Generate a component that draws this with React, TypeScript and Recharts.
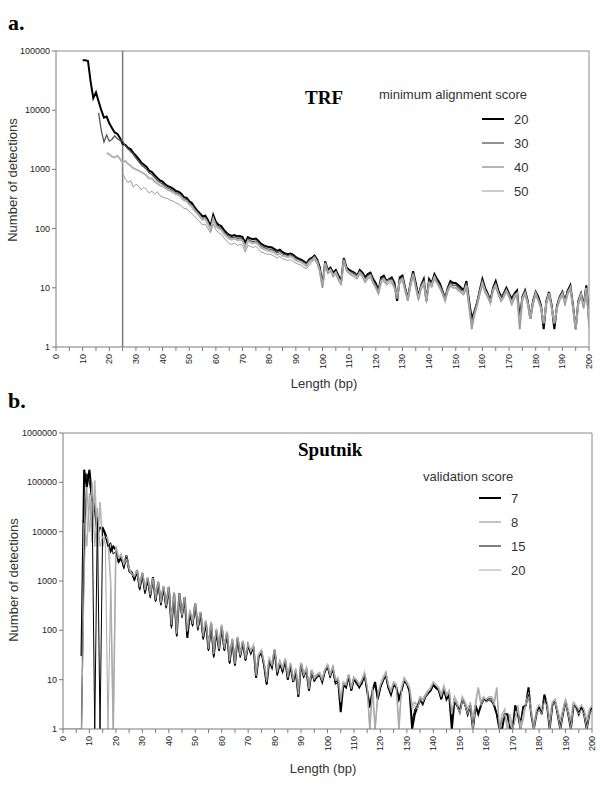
import { LineChart, Line, XAxis, YAxis, ReferenceLine } from 'recharts';

// ---- TRF (panel a): number of detections per length, one array per min. alignment score
const trfLen0 = { s20: 10, s30: 16, s40: 19, s50: 25 };

const trf20 = [
  70000, 70000, 68000, 30000, 16000, 20000, 14000, 10000, 7500, 7800,
  6000, 5000, 4200, 4000, 3400, 2700, 2600, 2300, 2200, 1900,
  1700, 1500, 1300, 1200, 1100, 950, 900, 800, 720, 650,
  620, 560, 520, 500, 470, 430, 420, 390, 340, 330,
  290, 270, 230, 200, 180, 160, 165, 140, 110, 170,
  130, 115, 110, 95, 85, 78, 75, 78, 74, 75,
  72, 58, 72, 68, 66, 68, 62, 55, 52, 50,
  49, 48, 45, 42, 44, 40, 38, 37, 38, 36,
  33, 31, 30, 28, 26, 30, 32, 35, 30, 22,
  11, 28, 20, 22, 18, 20, 16, 13, 32, 22,
  20, 19, 18, 16, 20, 18, 15, 17, 18, 14,
  12, 9, 15, 16, 13, 14, 15, 12, 6, 15,
  16, 10, 6.5, 12, 19, 12, 7, 11, 14, 6,
  14, 12, 17, 14, 12, 9, 6.5, 10, 13, 12,
  12, 11, 10, 9, 13, 6, 3, 4, 5.5, 9,
  14, 10, 8, 6, 10, 13, 9, 7, 8, 10,
  8, 6.5, 8, 9, 3, 7, 9, 6, 3, 6,
  8.5, 7, 5, 2, 6, 8.5, 5, 2, 5, 7,
  8.5, 6, 9, 11, 5, 2, 6, 8, 5, 11, 3,
];

const trf30 = [
  9000, 4500, 2900, 3800,
  3000, 3200, 3700, 3300, 3100, 3000, 2500, 2200, 2000, 1800,
  1550, 1350, 1200, 1100, 1000, 870, 820, 730, 650, 600,
  570, 510, 480, 460, 430, 400, 390, 360, 320, 310,
  270, 250, 215, 190, 170, 150, 150, 130, 100, 155,
  120, 105, 100, 88, 78, 72, 70, 72, 68, 70,
  66, 52, 66, 62, 60, 62, 57, 50, 48, 46,
  45, 44, 42, 39, 41, 37, 36, 35, 36, 34,
  31, 30, 28, 27, 25, 29, 31, 34, 29, 21,
  11, 27, 19, 21, 17, 19, 15, 12, 31, 21,
  19, 18, 17, 16, 19, 17, 14, 16, 17, 13,
  11, 9, 14, 15, 13, 14, 14, 11, 7, 14,
  15, 10, 7, 12, 18, 11, 7, 11, 13, 6.5,
  13, 12, 16, 13, 11, 9, 7, 10, 12, 11,
  11, 10, 9, 9, 12, 5.5, 2.5, 4, 6, 9,
  13, 9, 8, 6, 10, 12, 8, 7, 8, 9,
  8, 6, 8, 8, 2.5, 7, 9, 6, 3.5, 6,
  8, 6.5, 5, 2.5, 6, 8, 5, 2.5, 5, 7,
  8, 6, 9, 10, 5, 2, 6, 8, 5, 10, 3,
];

const trf40 = [
  1900,
  1800, 1650, 1600, 1700, 1500, 1300, 1400, 1250, 1150, 1050,
  1000, 950, 900, 850, 780, 700, 700, 620, 580, 540,
  520, 480, 450, 430, 410, 380, 370, 340, 300, 290,
  255, 235, 200, 180, 160, 140, 145, 120, 95, 145,
  110, 100, 95, 82, 74, 68, 65, 68, 64, 65,
  62, 48, 62, 58, 56, 58, 53, 47, 45, 43,
  42, 41, 39, 36, 38, 35, 34, 33, 34, 32,
  29, 28, 27, 25, 23, 27, 29, 32, 27, 19,
  10, 26, 18, 20, 16, 18, 14, 12, 29, 20,
  18, 17, 16, 15, 18, 16, 13, 15, 16, 12,
  10, 8, 13, 14, 12, 13, 13, 10, 7, 13,
  14, 9, 6, 11, 17, 10, 6.5, 10, 12, 6,
  12, 11, 15, 12, 10, 8, 6, 9, 11, 10,
  10, 9, 8.5, 8, 11, 5, 2, 3.5, 5, 8,
  12, 9, 7, 5.5, 9, 11, 8, 6, 7, 9,
  7, 5.5, 7, 8, 2, 6.5, 8, 5.5, 3, 5.5,
  8, 6, 4.5, 2.5, 5.5, 8, 4.5, 2.5, 4.5, 6.5,
  8, 5.5, 8, 10, 4.5, 2, 5.5, 7.5, 4.5, 10, 2.5,
];

const trf50 = [
  850, 700, 600, 650, 500,
  560, 520, 450, 500, 450, 400, 430, 380, 420, 360,
  340, 330, 320, 300, 290, 270, 260, 240, 220, 215,
  195, 180, 160, 145, 130, 115, 120, 100, 85, 120,
  95, 85, 80, 70, 62, 56, 54, 57, 52, 54,
  52, 40, 52, 50, 48, 50, 45, 40, 39, 37,
  37, 36, 34, 32, 34, 31, 30, 29, 30, 28,
  26, 25, 24, 22, 21, 24, 27, 30, 25, 18,
  10, 25, 17, 19, 15, 17, 13, 11, 28, 19,
  17, 16, 15, 14, 17, 15, 12, 14, 15, 12,
  10, 8, 12, 13, 11, 12, 12, 10, 6.5, 12,
  13, 9, 6, 10, 16, 10, 6, 9.5, 11, 5.5,
  12, 10, 14, 12, 10, 8, 6, 8.5, 11, 10,
  10, 9, 8, 7.5, 10, 4.5, 2, 3.5, 5, 7.5,
  11, 8, 7, 5.5, 9, 10, 7.5, 6, 7, 8.5,
  7, 5, 6.5, 7.5, 2, 6, 7.5, 5, 3, 5,
  7.5, 6, 4.5, 2.5, 5, 7.5, 4.5, 2.5, 4.5, 6,
  7.5, 5, 7.5, 9.5, 4.5, 2, 5, 7, 4.5, 9.5, 2,
];

// ---- Sputnik (panel b): one array per validation score
const spLen0 = { s7: 7, s8: 6, s15: 7, s20: 0 };

const sp7 = [
  30,
  180000, 80000,
  180000, 50000, 30000, 9000, 12000, 12000, 9000, 6000, 4000, 5000,
  4300, 2500, 3000, 2000, 3300, 1700, 1500, 1100, 1650, 700,
  1450, 600, 1150, 500, 1200, 400, 950, 350, 760, 300,
  760, 120, 570, 80, 560, 200, 470, 70, 230, 130,
  350, 110, 230, 70, 150, 40, 140, 30, 100, 40,
  120, 40, 90, 22, 64, 20, 70, 30, 59, 25,
  50, 35, 47, 11, 30, 37, 20, 8, 25, 18,
  40, 13, 22, 15, 25, 10, 20, 9, 15, 4.5,
  21, 12, 16, 6, 15, 10, 12, 13, 9, 15,
  19, 12, 17, 9, 10, 2.2, 8, 7, 12, 6,
  10.6, 9, 7, 9, 13, 6, 2.7, 6, 9, 4,
  7, 10, 13, 7, 5, 8, 7, 4, 6, 10,
  8.5, 6, 1, 2, 2.8, 4, 3.2, 4.5, 5.4, 6,
  8, 7, 6.3, 4, 6.8, 4, 5, 1, 3.7, 3,
  2.2, 4, 3.2, 2, 3, 1, 3, 2, 3, 4,
  3.7, 4, 4, 3, 2, 1, 1, 2, 2, 1,
  1, 3, 2, 1, 2.8, 3, 7, 2, 1, 2,
  2.8, 2, 5, 3, 1, 3, 3.7, 2, 1, 2,
  3.7, 2, 1, 3, 2.8, 2, 2.8, 2, 1, 2, 2.8,
];

const sp8 = [
  1,
  1, 15000, 5000,
  60000, 6000, 110000, 5000, 40000, 5000, 8000, 7000, 1000, 1,
  5000, 3000, 3500, 2200, 3000, 1800, 1400, 1300, 1600, 800,
  1500, 700, 1200, 550, 1150, 450, 1000, 380, 800, 330,
  750, 140, 600, 90, 550, 210, 480, 100, 260, 140,
  360, 120, 240, 80, 160, 45, 150, 35, 110, 45,
  130, 45, 95, 25, 70, 22, 75, 32, 62, 28,
  52, 38, 50, 13, 33, 40, 22, 10, 27, 20,
  42, 15, 24, 17, 27, 12, 22, 10, 17, 5,
  22, 13, 17, 7, 16, 11, 13, 14, 10, 16,
  20, 13, 18, 10, 11, 4, 9, 8, 13, 7,
  11, 10, 8, 10, 14, 7, 1, 7, 1, 5,
  8, 11, 14, 8, 6, 9, 8, 1, 7, 11,
  9, 7, 3, 3.5, 3, 4.5, 4, 5, 6, 7,
  9, 8, 7, 5, 7.5, 5, 6, 2, 4.5, 3.5,
  2.5, 4.5, 3.5, 2.5, 3.5, 1.5, 3.5, 7, 3.5, 4.5,
  4, 4.5, 4.5, 3.5, 7, 1, 2, 2.5, 1, 2,
  1, 2, 3, 1, 2, 3.5, 5, 2.5, 1, 2.5,
  3, 2.5, 4, 3.5, 1.5, 3.5, 4, 2.5, 1.5, 2.5,
  4, 2.5, 1.5, 3.5, 3, 2.5, 3, 2.5, 1.5, 2.5, 3,
];

const sp15 = [
  1,
  3000, 150000,
  100000, 40000, 1, 20000, 1, 12000, 8000, 5000, 6000, 3500,
  4000, 2300, 2800, 1800, 3000, 1500, 1400, 1000, 1500, 650,
  1350, 550, 1100, 450, 1100, 380, 900, 320, 700, 280,
  700, 110, 540, 75, 520, 180, 450, 80, 220, 120,
  330, 100, 220, 65, 140, 38, 130, 28, 95, 38,
  110, 38, 85, 21, 60, 19, 66, 28, 55, 24,
  48, 33, 44, 11, 28, 35, 19, 8, 24, 17,
  38, 12, 21, 14, 24, 10, 19, 9, 14, 4.5,
  20, 11, 15, 6, 14, 9, 11, 12, 9, 14,
  18, 11, 16, 8, 9, 3, 7.5, 7, 11, 6,
  10, 8, 7, 8, 12, 5.5, 3, 6, 8, 4,
  7, 9, 12, 6.5, 5, 7.5, 7, 4, 6, 9,
  8, 5.5, 1.5, 2.5, 3, 4, 3.5, 4.5, 5, 6,
  7.5, 6.5, 6, 4, 6, 4, 5, 1.5, 3.5, 3,
  2.5, 4, 3, 2, 3, 1, 3, 2, 3, 4,
  3.5, 4, 3.5, 3, 2, 1, 1.5, 2, 2, 1,
  1, 3, 2, 1.5, 2.8, 3, 5, 2, 1, 2,
  2.8, 2, 4.5, 3, 1, 3, 3.5, 2, 1, 2,
  3.5, 2, 1, 3, 2.5, 2, 2.8, 2, 1, 2, 2.5,
];

const sp20 = [
  1, 1, 1, 1, 1, 1, 1, 1, 1000, 80000,
  10000, 100000, 5000, 30000, 5000, 8000, 6000, 1, 700, 1,
  5000, 2800, 3200, 2100, 2800, 1700, 1350, 1200, 1550, 750,
  1400, 650, 1150, 520, 1100, 420, 980, 360, 780, 310,
  720, 130, 580, 85, 540, 200, 460, 95, 250, 135,
  340, 115, 235, 75, 155, 42, 145, 33, 105, 42,
  125, 42, 92, 24, 66, 21, 72, 31, 60, 26,
  50, 36, 48, 12, 31, 38, 21, 9, 26, 19,
  40, 14, 23, 16, 26, 11, 21, 9.5, 16, 5,
  21, 12, 16, 6.5, 15, 10, 12, 13, 9.5, 15,
  19, 12, 17, 9.5, 10, 3.5, 8.5, 7.5, 12, 6.5,
  10.5, 9.5, 7.5, 9.5, 13, 6.5, 1, 6.5, 1, 4.5,
  7.5, 10, 13, 7.5, 5.5, 8.5, 7.5, 1, 6.5, 10,
  8.5, 6.5, 2.5, 3, 2.5, 4, 3.5, 4.5, 5.5, 6.5,
  8.5, 7.5, 6.5, 4.5, 7, 4.5, 5.5, 2, 4, 3,
  2, 4, 3, 2, 3, 1, 3, 6.5, 3, 4,
  3.5, 4, 4, 3, 6.5, 1, 1.5, 2, 1, 1.5,
  1, 1.5, 2.5, 1, 1.5, 3, 4.5, 2, 1, 2,
  2.5, 2, 3.5, 3, 1, 3, 3.5, 2, 1, 2,
  3.5, 2, 1, 3, 2.5, 2, 2.5, 2, 1, 2, 2.5,
];

const xTicks = [0, 5, 10, 15, 20, 25, 30, 35, 40, 45, 50, 55, 60, 65, 70, 75, 80, 85, 90, 95, 100,
  105, 110, 115, 120, 125, 130, 135, 140, 145, 150, 155, 160, 165, 170, 175, 180, 185, 190, 195, 200];
const trfYTicks = [1, 10, 100, 1000, 10000, 100000];
const spYTicks = [1, 10, 100, 1000, 10000, 100000, 1000000];

type SeriesDef = { key: string; name: string; start: number; values: number[]; stroke: string; width: number };

const trfSeries: SeriesDef[] = [
  { key: 's20', name: '20', start: trfLen0.s20, values: trf20, stroke: '#000000', width: 2 },
  { key: 's30', name: '30', start: trfLen0.s30, values: trf30, stroke: '#555555', width: 1.3 },
  { key: 's40', name: '40', start: trfLen0.s40, values: trf40, stroke: '#b4b4b4', width: 2 },
  { key: 's50', name: '50', start: trfLen0.s50, values: trf50, stroke: '#9a9a9a', width: 1 },
];

const spSeries: SeriesDef[] = [
  { key: 's7', name: '7', start: spLen0.s7, values: sp7, stroke: '#000000', width: 2 },
  { key: 's8', name: '8', start: spLen0.s8, values: sp8, stroke: '#b4b4b4', width: 1.6 },
  { key: 's15', name: '15', start: spLen0.s15, values: sp15, stroke: '#000000', width: 1 },
  { key: 's20', name: '20', start: spLen0.s20, values: sp20, stroke: '#a8a8a8', width: 1 },
];

function buildRows(series: SeriesDef[]) {
  const rows: Record<string, number | null>[] = [];
  for (let len = 0; len <= 200; len++) {
    const row: Record<string, number | null> = { len };
    series.forEach((s) => {
      const i = len - s.start;
      row[s.key] = i >= 0 && i < s.values.length ? s.values[i] : null;
    });
    rows.push(row);
  }
  return rows;
}

const trfRows = buildRows(trfSeries);
const spRows = buildRows(spSeries);

const SANS = '"Liberation Sans", Arial, sans-serif';
const SERIF = '"Liberation Serif", "Times New Roman", serif';

function LenTick({ x, y, payload }: any) {
  if (payload.value % 10 !== 0) return null;
  return (
    <text x={x} y={y} dy={3} transform={`rotate(-90 ${x} ${y})`} textAnchor="end"
      fontSize={9} fontFamily={SANS} fill="#222">
      {payload.value}
    </text>
  );
}

function CountTick({ x, y, payload }: any) {
  return (
    <text x={x} y={y} dy={3} textAnchor="end" fontSize={9} fontFamily={SANS} fill="#222">
      {payload.value}
    </text>
  );
}

function LegendBlock({ title, series, titleX, titleY, lineX, itemY }: {
  title: string; series: SeriesDef[]; titleX: number; titleY: number; lineX: number; itemY: number;
}) {
  return (
    <g fontFamily={SANS} fontSize={13} fill="#333">
      <text x={titleX} y={titleY}>{title}</text>
      {series.map((s, i) => (
        <g key={s.key}>
          <line x1={lineX} x2={lineX + 22} y1={itemY + i * 24} y2={itemY + i * 24}
            stroke={s.stroke} strokeWidth={s.width} />
          <text x={lineX + 32} y={itemY + i * 24 + 5}>{s.name}</text>
        </g>
      ))}
    </g>
  );
}

function Panel({ rows, series, yTicks, yMax, yWidth, top, height, marginTop, marginRight, xHeight, refX }: any) {
  return (
    <div style={{ position: 'absolute', left: 0, top }}>
      <LineChart width={600} height={height} data={rows}
        margin={{ top: marginTop, right: marginRight, left: 0, bottom: 0 }}>
        <XAxis dataKey="len" type="number" domain={[0, 200]} ticks={xTicks} interval={0}
          height={xHeight} tick={<LenTick />} tickSize={4} tickMargin={3}
          stroke="#7a7a7a" allowDataOverflow />
        <YAxis type="number" scale="log" domain={[1, yMax]} ticks={yTicks} interval={0}
          width={yWidth} tick={<CountTick />} tickSize={4} tickMargin={2}
          stroke="#7a7a7a" allowDataOverflow />
        <ReferenceLine y={yMax} stroke="#8a8a8a" strokeWidth={1} />
        <ReferenceLine x={200} stroke="#8a8a8a" strokeWidth={1} />
        {refX !== undefined && <ReferenceLine x={refX} stroke="#7a7a7a" strokeWidth={1.5} />}
        {series.map((s: SeriesDef) => (
          <Line key={s.key} dataKey={s.key} name={s.name} stroke={s.stroke} strokeWidth={s.width}
            dot={false} activeDot={false} type="linear" isAnimationActive={false} />
        ))}
      </LineChart>
    </div>
  );
}

export default function App() {
  return (
    <div style={{ position: 'absolute', left: 0, top: 0, width: 600, height: 788, background: '#fff' }}>
      <Panel rows={trfRows} series={trfSeries} yTicks={trfYTicks} yMax={100000} yWidth={56}
        top={0} height={400} marginTop={51} marginRight={11} xHeight={53} refX={25} />
      <Panel rows={spRows} series={spSeries} yTicks={spYTicks} yMax={1000000} yWidth={63}
        top={400} height={388} marginTop={33} marginRight={8} xHeight={59} />
      <svg width={600} height={788} style={{ position: 'absolute', left: 0, top: 0, pointerEvents: 'none' }}>
        <text x={8} y={30} fontFamily={SERIF} fontWeight="bold" fontSize={22} fill="#000">a.</text>
        <text x={8} y={408} fontFamily={SERIF} fontWeight="bold" fontSize={22} fill="#000">b.</text>
        <text x={305} y={104} fontFamily={SERIF} fontWeight="bold" fontSize={19} fill="#000">TRF</text>
        <text x={298} y={456} fontFamily={SERIF} fontWeight="bold" fontSize={19} fill="#000">Sputnik</text>
        <text x={17} y={180} transform="rotate(-90 17 180)" textAnchor="middle"
          fontFamily={SANS} fontSize={13} fill="#333">Number of detections</text>
        <text x={18} y={580} transform="rotate(-90 18 580)" textAnchor="middle"
          fontFamily={SANS} fontSize={13} fill="#333">Number of detections</text>
        <text x={324} y={388} textAnchor="middle" fontFamily={SANS} fontSize={13} fill="#333">Length (bp)</text>
        <text x={323} y={773} textAnchor="middle" fontFamily={SANS} fontSize={13} fill="#333">Length (bp)</text>
        <LegendBlock title="minimum alignment score" series={trfSeries} titleX={379} titleY={99}
          lineX={482} itemY={119} />
        <LegendBlock title="validation score" series={spSeries} titleX={423} titleY={481}
          lineX={479} itemY={498} />
      </svg>
    </div>
  );
}
